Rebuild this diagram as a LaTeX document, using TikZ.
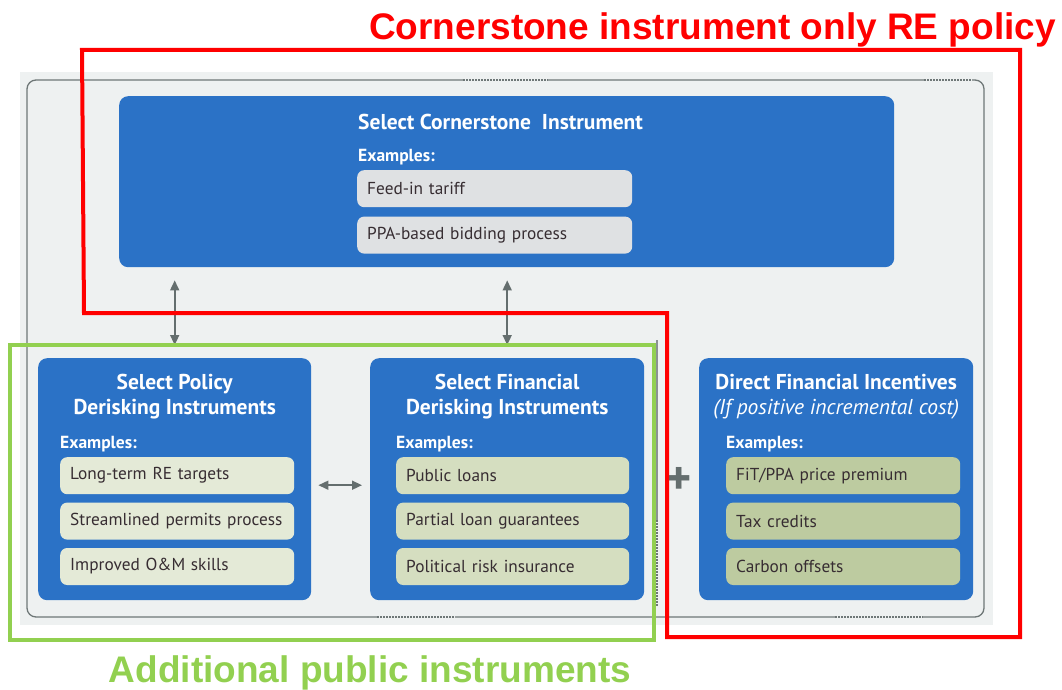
\documentclass[tikz,border=0pt]{standalone}
\usepackage{fontspec}
\setmainfont{PT Sans}
\newfontfamily\calloutfont{Liberation Sans}
\usepackage{tikz}
\usetikzlibrary{arrows.meta,positioning}

\definecolor{boxblue}{RGB}{43,114,198}
\definecolor{panelbg}{RGB}{238,241,241}
\definecolor{framegrey}{RGB}{110,119,119}
\definecolor{arrowgrey}{RGB}{100,110,110}
\definecolor{itemtext}{RGB}{55,45,50}
\definecolor{itemgrey}{RGB}{223,225,227}
\definecolor{itempale}{RGB}{228,234,215}
\definecolor{itemsage}{RGB}{213,222,192}
\definecolor{itemolive}{RGB}{189,203,160}
\definecolor{callred}{RGB}{255,0,0}
\definecolor{callgreen}{RGB}{146,208,80}

\begin{document}
\begin{tikzpicture}[x=1pt,y=-1pt,
  panel/.style={fill=boxblue,rounded corners=9pt,anchor=north west,inner sep=0pt},
  head/.style={text=white,font=\fontsize{21.5}{25}\selectfont\bfseries,inner sep=0pt},
  examples/.style={text=white,font=\fontsize{17.5}{18}\selectfont\bfseries,
                   anchor=base west,inner sep=0pt},
  item/.style={rounded corners=7pt,anchor=north west,minimum height=37pt,
               inner xsep=10pt,inner ysep=0pt,align=left,text=itemtext,
               font=\fontsize{17.3}{18}\selectfont},
  dbl/.style={{Triangle[length=10pt,width=9pt]}-{Triangle[length=10pt,width=9pt]},
              line width=1.6pt,draw=arrowgrey},
  callout/.style={font=\calloutfont\fontsize{37}{44}\selectfont\bfseries,inner sep=0pt},
  dotline/.style={draw=framegrey,line width=1.3pt,dash pattern=on 1.5pt off 1.5pt}]

\useasboundingbox (0,0) rectangle (1062,690);

% background panel and frame
\fill[panelbg] (20,72) rectangle (993,625);
\draw[framegrey,line width=1.3pt,rounded corners=9pt] (27,80) rectangle (984,617);
\foreach \a/\b/\y in {463/548/80, 924/972/80, 377/455/617, 835/923/617}
  {\draw[panelbg,line width=2.5pt] (\a,\y) -- (\b,\y);
   \draw[dotline] (\a,\y) -- (\b,\y);}
\draw[framegrey!80,line width=1.2pt] (657,340) -- (657,520);
\draw[dotline] (657,520) -- (657,607);

% cornerstone instrument
\node[panel,minimum width=775pt,minimum height=171pt] (cor) at (119,96) {};
\node[head,anchor=base west] (corhead) at (358,130) {Select Cornerstone\ \ Instrument};
\node[examples] (corex) at (358,161) {Examples:};
\node[item,fill=itemgrey,text width=255pt] (fit) at (357,170) {Feed-in tariff};
\node[item,fill=itemgrey,text width=255pt,below=9pt of fit] (ppa) {PPA-based bidding process};

% policy derisking
\node[panel,minimum width=273pt,minimum height=242pt] (pol) at (38,358) {};
\node[head,align=center,anchor=north] (polhead) at ([yshift=-16pt]pol.north)
  {Select Policy\\Derisking Instruments};
\node[examples] (polex) at (60,448) {Examples:};
\node[item,fill=itempale,text width=214pt] (tgt) at (60,457) {Long-term RE targets};
\node[item,fill=itempale,text width=214pt,below=8pt of tgt] (prm) {Streamlined permits process};
\node[item,fill=itempale,text width=214pt,below=8pt of prm] (skl) {Improved O\&M skills};

% financial derisking
\node[panel,minimum width=274pt,minimum height=242pt] (fin) at (370,358) {};
\node[head,align=center,anchor=north] (finhead) at ([yshift=-16pt]fin.north)
  {Select Financial\\Derisking Instruments};
\node[examples] (finex) at (396,448) {Examples:};
\node[item,fill=itemsage,text width=213pt] (lns) at (396,457) {Public loans};
\node[item,fill=itemsage,text width=213pt,below=8pt of lns] (grt) {Partial loan guarantees};
\node[item,fill=itemsage,text width=213pt,below=8pt of grt] (ins) {Political risk insurance};

% direct financial incentives
\node[panel,minimum width=274pt,minimum height=242pt] (dfi) at (699,358) {};
\node[head,align=center,anchor=north] (dfihead) at ([yshift=-16pt]dfi.north)
  {Direct Financial Incentives\\\mdseries\itshape(If positive incremental cost)};
\node[examples] (dfiex) at (726,448) {Examples:};
\node[item,fill=itemolive,text width=214pt] (prem) at (726,457) {FiT/PPA price premium};
\node[item,fill=itemolive,text width=214pt,below=8pt of prem] (tax) {Tax credits};
\node[item,fill=itemolive,text width=214pt,below=8pt of tax] (crb) {Carbon offsets};

\node[text=arrowgrey,font=\fontsize{48}{48}\selectfont\bfseries,inner sep=0pt] (plus) at (679,481) {+};

\draw[dbl,shorten <=13pt,shorten >=13pt] (pol.north) -- (pol.north |- cor.south);
\draw[dbl,shorten <=13pt,shorten >=13pt] (fin.north) -- (fin.north |- cor.south);
\draw[dbl,shorten <=7pt,shorten >=8pt] ([yshift=-6pt]pol.east) -- ([yshift=-6pt]fin.west);

% highlights
\draw[callred,line width=4pt] (82,50) -- (1020,50) -- (1020,637) -- (667,637)
  -- (667,313) -- (84,313) -- cycle;
\draw[callgreen,line width=4pt] (10,345) rectangle (654,640);
\node[callout,text=callred,anchor=base east] (redlbl) at (1056,40)
  {Cornerstone instrument only RE policy};
\node[callout,text=callgreen,anchor=base] (greenlbl) at (370,682)
  {Additional public instruments};
\end{tikzpicture}
\end{document}
